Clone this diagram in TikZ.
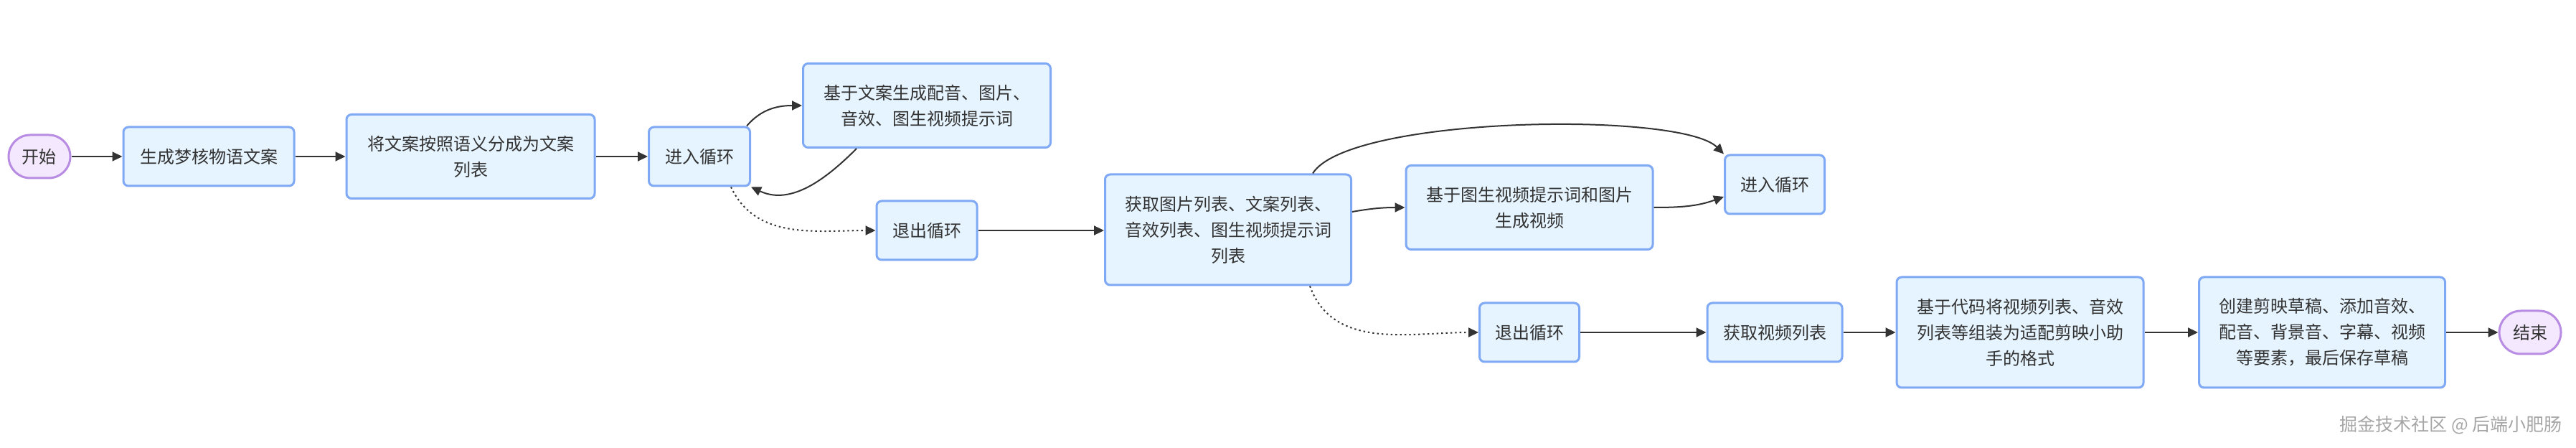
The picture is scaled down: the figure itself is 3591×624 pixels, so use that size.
\documentclass[tikz,border=0pt]{standalone}
\usepackage{fontspec}
\setmainfont{Noto Sans CJK SC}
\usetikzlibrary{arrows.meta}
\definecolor{boxfill}{HTML}{E6F4FF}
\definecolor{boxline}{HTML}{7FA8F5}
\definecolor{pillfill}{HTML}{F3E8FD}
\definecolor{pillline}{HTML}{B88CE3}
\definecolor{ink}{HTML}{333333}
\definecolor{markgray}{HTML}{A6A6A6}

\tikzset{
  procbox/.style={draw=boxline,fill=boxfill,line width=1.5pt,rounded corners=3.5pt,
    align=center,inner sep=2pt,text=ink,font=\fontsize{12}{18}\selectfont},
  terminal/.style={draw=pillline,fill=pillfill,line width=1.5pt,rounded corners=15pt,
    minimum width=43pt,minimum height=30pt,inner sep=2pt,text=ink,font=\fontsize{12}{18}\selectfont},
  onerow/.style={minimum height=41pt},
  tworow/.style={minimum height=58.5pt},
  threerow/.style={minimum height=77pt},
  flow/.style={draw=ink,line width=1pt,-{Triangle[length=7pt,width=6.5pt]}},
  loopexit/.style={flow,dash pattern=on 1.2pt off 2pt}
}

\begin{document}
\begin{tikzpicture}[x=0.5pt,y=0.5pt]
        \useasboundingbox (0,0) rectangle (3591,-624);

        \coordinate (p-start) at (55,-218);
        \coordinate (p-gen) at (291,-218);
        \coordinate (p-split) at (656,-218);
        \coordinate (p-loopA) at (975,-218);
        \coordinate (p-media) at (1292,-147);
        \coordinate (p-exitA) at (1292,-321);

        \coordinate (p-lists) at (1712,-320);
        \coordinate (p-video) at (2132,-289);
        \coordinate (p-loopB) at (2474,-257);
        \coordinate (p-exitB) at (2132,-463);
        \coordinate (p-videos) at (2474,-463);
        \coordinate (p-pack) at (2816,-463);
        \coordinate (p-draft) at (3237,-463);
        \coordinate (p-end) at (3527,-463);

        \node[terminal] (start) at (p-start) {开始};
        \node[procbox,onerow,minimum width=119pt] (gen) at (p-gen) {生成梦核物语文案};
        \node[procbox,tworow,minimum width=173pt] (split) at (p-split) {将文案按照语义分成为文案\\列表};
        \node[procbox,onerow,minimum width=70.5pt] (loopA) at (p-loopA) {进入循环};
        \node[procbox,tworow,minimum width=172.5pt] (media) at (p-media) {基于文案生成配音、图片、\\音效、图生视频提示词};
        \node[procbox,onerow,minimum width=70pt] (exitA) at (p-exitA) {退出循环};
        \node[procbox,threerow,minimum width=171.5pt] (lists) at (p-lists) {获取图片列表、文案列表、\\音效列表、图生视频提示词\\列表};
        \node[procbox,tworow,minimum width=172pt] (video) at (p-video) {基于图生视频提示词和图片\\生成视频};
        \node[procbox,onerow,minimum width=69.5pt] (loopB) at (p-loopB) {进入循环};
        \node[procbox,onerow,minimum width=69.5pt] (exitB) at (p-exitB) {退出循环};
        \node[procbox,onerow,minimum width=94pt] (videos) at (p-videos) {获取视频列表};
        \node[procbox,threerow,minimum width=172pt] (pack) at (p-pack) {基于代码将视频列表、音效\\列表等组装为适配剪映小助\\手的格式};
        \node[procbox,threerow,minimum width=171.5pt] (draft) at (p-draft) {创建剪映草稿、添加音效、\\配音、背景音、字幕、视频\\等要素，最后保存草稿};
        \node[terminal] (end) at (p-end) {结束};
        \node[anchor=east,inner sep=0pt,text=markgray,font=\fontsize{12.5}{14}\selectfont] (mark) at (3572,-592) {掘金技术社区 @ 后端小肥肠};

        \draw[flow] (start) -- (gen);
        \draw[flow] (gen) -- (split);
        \draw[flow] (split) -- (loopA);
        \draw[flow] ([xshift=-3pt]loopA.north east) to[out=50,in=180] (media.west);
        \draw[flow] ([xshift=38pt]media.south west) to[out=-135,in=-25] (loopA.south east);
        \draw[loopexit] ([xshift=22pt]loopA.south) to[out=-65,in=180] (exitA.west);
        \draw[flow] (exitA.east) -- (exitA.east -| lists.west);
        \draw[flow] ([xshift=59pt]lists.north) .. controls +(50,80) and +(-60,60) .. (loopB.north west);
        \draw[flow] ([yshift=12.5pt]lists.east) to[out=10,in=180] (video.west);
        \draw[flow] (video.east) to[out=0,in=200] ([yshift=-8.5pt]loopB.west);
        \draw[loopexit] ([xshift=57pt]lists.south) to[out=-70,in=180] (exitB.west);
        \draw[flow] (exitB) -- (videos);
        \draw[flow] (videos) -- (pack);
        \draw[flow] (pack) -- (draft);
        \draw[flow] (draft) -- (end);
\end{tikzpicture}
\end{document}
